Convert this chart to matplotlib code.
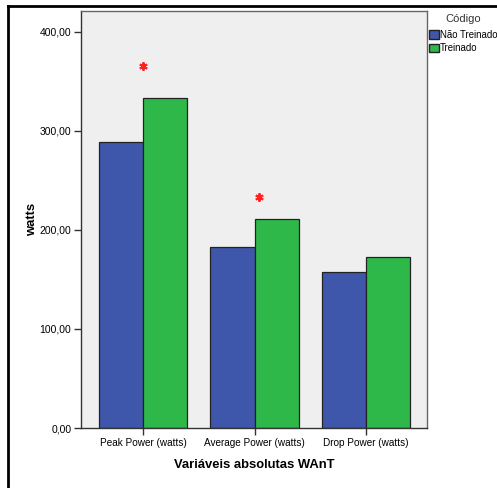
import numpy as np
import matplotlib
matplotlib.use("Agg")
import matplotlib.pyplot as plt
import matplotlib.patches as mpatches
from matplotlib.lines import Line2D

# data
categories = ["Peak Power (watts)", "Average Power (watts)", "Drop Power (watts)"]
nao_treinado = [289, 183, 157]
treinado = [333, 211, 172.5]
star_x = [0, 1.04]
star_y = [365, 233]
y_ticks = [0, 100, 200, 300, 400]

C_BLUE = "#3e57ab"
C_GREEN = "#2fb84a"
C_BG = "#efefef"

plt.rcParams["font.family"] = ["Liberation Sans", "DejaVu Sans"]

fig = plt.figure(figsize=(4.97, 4.88), dpi=100)
W, H = 497, 488
ax = fig.add_axes([81 / W, 1 - 428 / H, 346 / W, 417 / H])
ax.set_facecolor(C_BG)

x = np.arange(len(categories))
w = 0.395
ax.bar(x - w / 2, nao_treinado, width=w, color=C_BLUE, edgecolor="#222222", lw=0.9)
ax.bar(x + w / 2, treinado, width=w, color=C_GREEN, edgecolor="#222222", lw=0.9)
ax.plot(star_x, star_y, ls="none", marker=(6, 2, 0), ms=6, mew=1.4, color="#ff2020")

ax.set_xlim(-0.555, 2.545)
ax.set_ylim(0, 421)
ax.set_xticks(x)
ax.set_xticklabels(categories, fontsize=7.2)
ax.set_yticks(y_ticks)
ax.set_yticklabels([f"{v:.2f}".replace(".", ",") for v in y_ticks], fontsize=7.5)
ax.tick_params(direction="out", length=5, width=1, color="#333333", pad=2)
for s in ax.spines.values():
    s.set_color("#666666")
    s.set_linewidth(1)
ax.spines["left"].set_color("#333333")
ax.spines["bottom"].set_color("#333333")

ax.set_ylabel("watts", fontsize=9.4, fontweight="bold")
ax.yaxis.set_label_coords(-0.125, 0.5)
ax.set_xlabel("Variáveis absolutas WAnT", fontsize=9.4, fontweight="bold", labelpad=8)

# legend (title drawn separately to match spacing)
handles = [mpatches.Patch(facecolor=C_BLUE, edgecolor="#222222", label="Não Treinado"),
           mpatches.Patch(facecolor=C_GREEN, edgecolor="#222222", label="Treinado")]
fig.legend(handles=handles, loc="upper left",
           bbox_to_anchor=(429 / W, 1 - 30 / H), frameon=False, fontsize=6.9,
           handlelength=1.0, handleheight=1.0, handletextpad=0.15,
           labelspacing=0.35, borderpad=0.0, borderaxespad=0)
fig.text(463 / W, 1 - 19 / H, "Código", ha="center", va="center",
         fontsize=8, color="#333333")

# outer frame lines
fig.add_artist(Line2D([8 / W, 8 / W], [0, 1 - 6 / H], color="black", lw=2,
                      transform=fig.transFigure))
fig.add_artist(Line2D([8 / W, 1], [1 - 6 / H, 1 - 6 / H], color="black", lw=2,
                      transform=fig.transFigure))

fig.savefig("out.png", dpi=100)
